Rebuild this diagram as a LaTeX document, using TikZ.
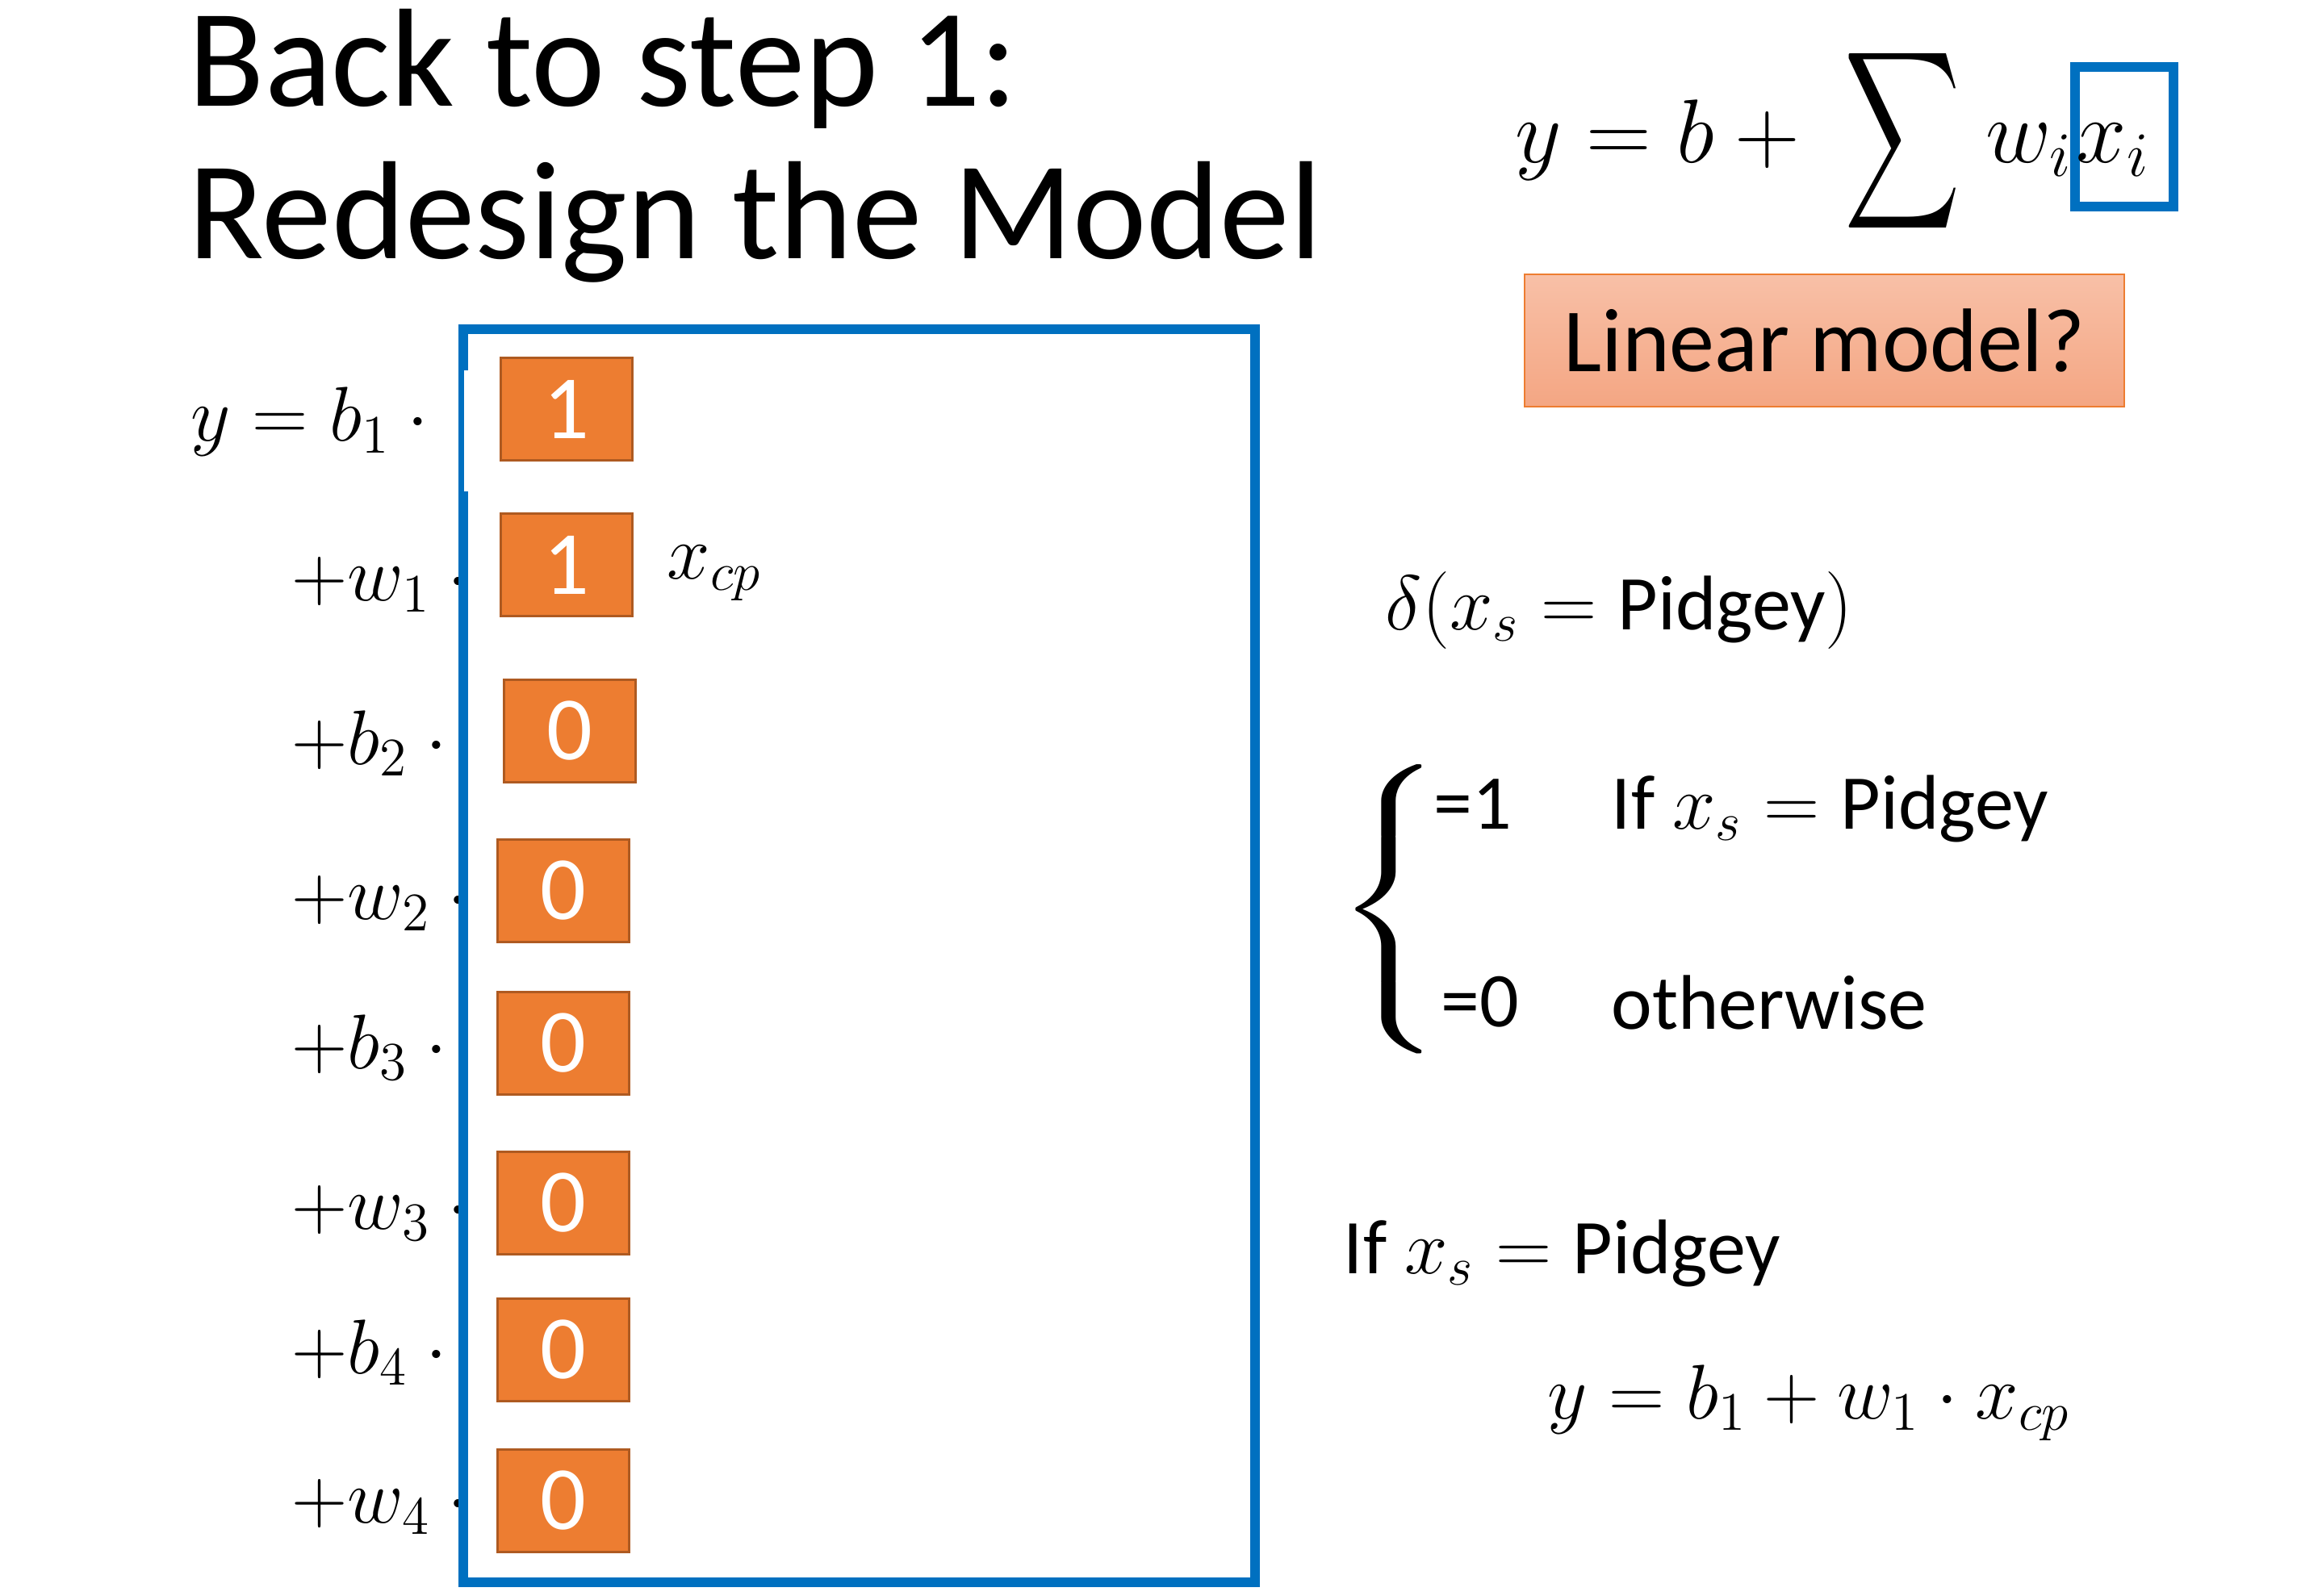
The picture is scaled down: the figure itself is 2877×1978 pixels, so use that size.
\RequirePackage{fix-cm}
\documentclass[tikz,border=0pt]{standalone}
\usepackage{exscale}
\usepackage[no-math]{fontspec}
\setmainfont{Carlito}
\usepackage{graphicx}
\usetikzlibrary{positioning,calc}
\definecolor{slideblue}{RGB}{0,112,192}
\definecolor{hotorange}{RGB}{237,125,49}
\definecolor{hotedge}{RGB}{174,90,33}
\definecolor{salmontop}{RGB}{248,192,167}
\definecolor{salmonbot}{RGB}{244,166,131}
\begin{document}
\begin{tikzpicture}[x=0.25pt,y=-0.25pt]
  \tikzstyle{title}=[font=\fontsize{43.3}{47}\selectfont, anchor=base west, inner sep=0pt]
  \tikzstyle{term}=[font=\fontsize{24}{28}\selectfont, anchor=base west, inner sep=0pt]
  \tikzstyle{hot}=[draw=hotedge, fill=hotorange, line width=0.75pt, text=white, minimum width=40.75pt, minimum height=31.75pt, font=\fontsize{28}{30}\selectfont, inner sep=0pt]
  \tikzstyle{frame}=[draw=slideblue, line width=3pt]
  \tikzstyle{ask}=[draw=hotorange, line width=0.5pt, top color=salmontop, bottom color=salmonbot, minimum width=185.75pt, minimum height=41pt, font=\fontsize{28}{30}\selectfont, inner sep=0pt]
  \def\eqsize{\fontsize{28}{32}\selectfont}

  \useasboundingbox (0,0) rectangle (2877,1978);

  % title
  \node [title] (title1) at (233,132) {Back to step 1:};
  \node [title] (title2) at (233,321) {Redesign the Model};

  % terms of the model
  \node [term] (t1) at (236,547) {$y=b_1\cdot{}$};
  \node [term] (t2) at (361,744) {$+w_1\cdot{}$};
  \node [term] (t3) at (361,947) {$+b_2\cdot{}$};
  \node [term] (t4) at (361,1139) {$+w_2\cdot{}$};
  \node [term] (t5) at (361,1324) {$+b_3\cdot{}$};
  \node [term] (t6) at (361,1523) {$+w_3\cdot{}$};
  \node [term] (t7) at (361,1702) {$+b_4\cdot{}$};
  \node [term] (t8) at (361,1887) {$+w_4\cdot{}$};

  % blue frame over the terms
  \draw [frame, fill=white] (574,408) rectangle (1555,1961);
  \fill [white] (575,459) rectangle (583,609);

  \node [hot] (v1) at (701.5,507.5) {1};
  \node [hot] (v2) at (701.5,700) {1};
  \node [hot] (v3) at (705.5,905.5) {0};
  \node [hot] (v4) at (698,1103.5) {0};
  \node [hot] (v5) at (698,1292.5) {0};
  \node [hot] (v6) at (698,1490.5) {0};
  \node [hot] (v7) at (698,1672.5) {0};
  \node [hot] (v8) at (698,1859.5) {0};
  \node [term] (xcp) at (826,717) {$x_{cp}$};

  % linear model
  \node [frame, minimum width=30.5pt, minimum height=43.25pt, inner sep=0pt] (xibox) at (2632,170) {};
  \node [term, font=\eqsize] (xi) at (2572,202) {$x_i$};
  \node [term, font=\eqsize, anchor=base east] (sumpart) at (2568,202) {$y=b+{}\;\vcenter{\hbox{\scalebox{1.0}[1.55]{$\displaystyle\sum$}}}\;w_i$};
  \node [ask] (linear) at (2260.5,422) {Linear model?};

  % one-hot feature
  \node [term] (delta) at (1716,780) {$\delta(x_s=\mbox{Pidgey})$};
  \node [inner sep=0pt, font=\fontsize{24}{28}\selectfont] (brace) at (1724,1127) {\scalebox{1.5}[1]{$\left\{\vrule height 37pt depth 37pt width 0pt\right.$}};
  \node [term] (one) at (1776,1027) {=1};
  \node [term] (cond) at (1996,1027) {If $x_s=\mbox{Pidgey}$};
  \node [term] (zero) at (1785,1272) {=0};
  \node [term] (other) at (1996,1275) {otherwise};

  \node [term] (cond2) at (1664,1578) {If $x_s=\mbox{Pidgey}$};
  \node [term] (result) at (1917,1758) {$y=b_1+w_1\cdot x_{cp}$};
\end{tikzpicture}
\end{document}
